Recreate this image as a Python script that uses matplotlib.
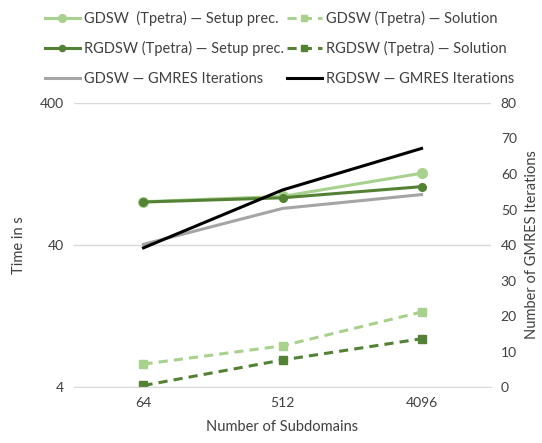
import numpy as np
import matplotlib
matplotlib.use("Agg")
import matplotlib.pyplot as plt
from matplotlib.ticker import FixedLocator, NullLocator

plt.rcParams['font.family'] = ['Lato', 'DejaVu Sans']

# data
subdomains = ["64", "512", "4096"]
gdsw_setup = [80.7, 88.0, 128.0]
gdsw_solution = [5.8, 7.8, 13.5]
rgdsw_setup = [80.3, 86.0, 103.0]
rgdsw_solution = [4.1, 6.2, 8.75]
gdsw_iters = [40.2, 50.3, 54.2]
rgdsw_iters = [39.2, 55.5, 67.2]

light = "#A9D18E"
dark = "#548235"
gray = "#A5A5A5"

x = np.arange(len(subdomains))

fig = plt.figure(figsize=(5.42, 4.43), dpi=100)
ax = fig.add_axes([0.1365, 0.1264, 0.7695, 0.6411])
ax2 = ax.twinx()

# time series (log scale, left)
l1, = ax.plot(x, gdsw_setup, color=light, lw=2.2, marker="o", ms=7, label="GDSW  (Tpetra) \u2014 Setup prec.")
l2, = ax.plot(x, gdsw_solution, color=light, lw=2.2, ls=(0, (3, 2)), marker="s", ms=6,
              label="GDSW (Tpetra) \u2014 Solution")
l3, = ax.plot(x, rgdsw_setup, color=dark, lw=2.2, marker="o", ms=5.5, label="RGDSW (Tpetra) \u2014 Setup prec.")
l4, = ax.plot(x, rgdsw_solution, color=dark, lw=2.2, ls=(0, (3, 2)), marker="s", ms=5.5,
              label="RGDSW (Tpetra) \u2014 Solution")

# iterations (right)
l5, = ax2.plot(x, gdsw_iters, color=gray, lw=2.2, label="GDSW \u2014 GMRES Iterations")
l6, = ax2.plot(x, rgdsw_iters, color="black", lw=2.2, label="RGDSW \u2014 GMRES Iterations")

ax.set_yscale("log")
ax.set_ylim(4, 400)
ax.yaxis.set_major_locator(FixedLocator([4, 40, 400]))
ax.yaxis.set_minor_locator(NullLocator())
ax.set_yticklabels(["4", "40", "400"])
ax.set_xlim(-0.5, 2.5)
ax.set_xticks(x)
ax.set_xticklabels(subdomains)
ax.grid(axis="y", color="#D9D9D9", lw=1)
ax.set_axisbelow(True)

ax2.set_ylim(0, 80)
ax2.set_yticks(range(0, 81, 10))

for a in (ax, ax2):
    for s in a.spines.values():
        s.set_visible(False)
    a.tick_params(length=0, labelsize=10, colors="#404040", pad=7)

ax.spines["bottom"].set_visible(True)
ax.spines["bottom"].set_color("#D9D9D9")

ax.set_xlabel("Number of Subdomains", fontsize=10.5, color="#404040", labelpad=8)
ax.set_ylabel("Time in s", fontsize=10.5, color="#404040", labelpad=10)
ax2.set_ylabel("Number of GMRES Iterations", fontsize=10.5, color="#404040", labelpad=6)

fig.legend(handles=[l1, l3, l5, l2, l4, l6], ncol=2, loc="upper left",
           bbox_to_anchor=(0.058, 1.005), frameon=False, fontsize=10.5,
           labelcolor="#404040", handlelength=2.4, handletextpad=0.3,
           columnspacing=0.2, labelspacing=1.05, markerscale=0.8)

fig.savefig("out.png", dpi=100)
